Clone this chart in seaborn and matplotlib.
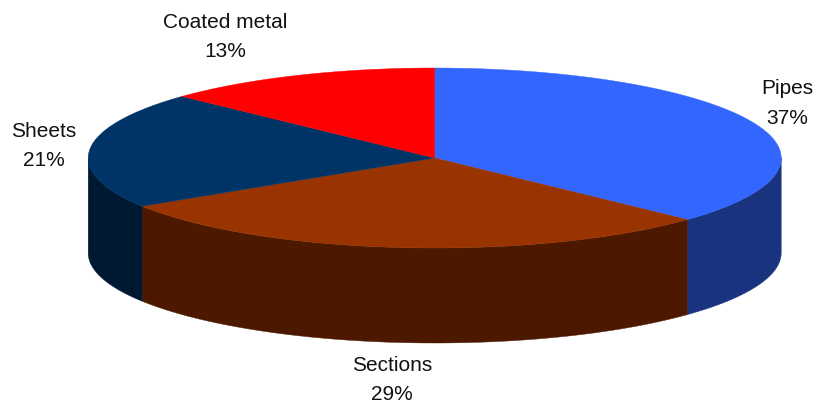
import numpy as np
import matplotlib
matplotlib.use("Agg")
import matplotlib.pyplot as plt
import seaborn as sns

categories = ["Pipes", "Sections", "Sheets", "Coated metal"]
shares = [37, 29, 21, 13]
top_colors = ["#3366FF", "#993300", "#003366", "#FF0000"]
side_colors = ["#19337F", "#4C1900", "#001933", "#7F0000"]

W, H = 819, 407
CX, CY, RX, RY, DEPTH = 434.7, 158, 346.5, 90, 95

sns.set_theme(style="white")
plt.rcParams["font.family"] = ["Liberation Sans", "DejaVu Sans"]

fig = plt.figure(figsize=(W / 100, H / 100), dpi=100, facecolor="white")
ax = fig.add_axes([0, 0, 1, 1])
ax.set_xlim(0, W)
ax.set_ylim(H, 0)
ax.axis("off")


def ex(theta):
    return CX + RX * np.sin(theta)


def ey(theta):
    return CY - RY * np.cos(theta)


edges = np.cumsum([0] + shares) / sum(shares) * 2 * np.pi

# side walls: only the part of each slice on the front half of the ellipse
for i in range(len(shares)):
    a = max(edges[i], np.pi / 2)
    b = min(edges[i + 1], 3 * np.pi / 2)
    if b > a:
        t = np.linspace(a, b, 200)
        xs = np.r_[ex(t), ex(t)[::-1]]
        ys = np.r_[ey(t), ey(t)[::-1] + DEPTH]
        ax.fill(xs, ys, color=side_colors[i], lw=0.3, zorder=2)

# top faces
for i in range(len(shares)):
    t = np.linspace(edges[i], edges[i + 1], 200)
    xs = np.r_[CX, ex(t)]
    ys = np.r_[CY, ey(t)]
    ax.fill(xs, ys, color=top_colors[i], lw=0.3, zorder=3)

label_pos = [(787, 103.5), (392, 380), (44, 146), (225, 37)]
for name, share, (x, y) in zip(categories, shares, label_pos):
    ax.text(x, y, f"{name}\n{share}%", ha="center", va="center",
            fontsize=15, color="#111111", linespacing=1.7, zorder=4)

fig.savefig("out.png", dpi=100, facecolor="white")
